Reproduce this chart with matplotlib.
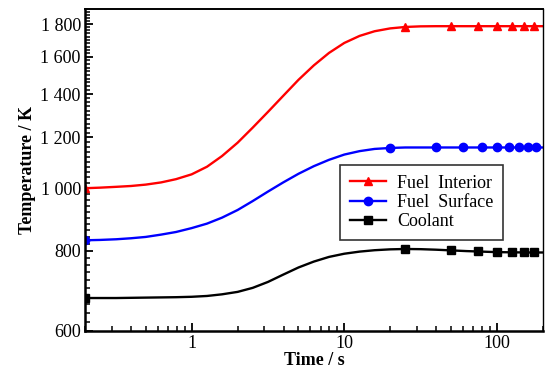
import numpy as np
import matplotlib
matplotlib.use("Agg")
import matplotlib.pyplot as plt
from matplotlib.ticker import FixedLocator, FixedFormatter, LogLocator, NullFormatter

plt.rcParams['font.family'] = ['Liberation Serif', 'DejaVu Serif']

# time points (s)
t_line = [0.2, 0.25, 0.32, 0.4, 0.5, 0.63, 0.79, 1, 1.26, 1.58, 2, 2.51,
          3.16, 3.98, 5.01, 6.31, 7.94, 10, 12.6, 15.8, 20, 25.1, 31.6, 39.8,
          50.1, 63.1, 79.4, 100, 126, 158, 200]
interior = [1000, 1002, 1005, 1008, 1013, 1021, 1033, 1051, 1080, 1122, 1177,
            1242, 1314, 1392, 1474, 1552, 1623, 1682, 1725, 1754, 1772, 1781,
            1785, 1786, 1786, 1786, 1786, 1786, 1786, 1786, 1786]
surface = [830, 831, 833, 836, 840, 847, 855, 867, 881, 900, 925, 955, 988,
           1021, 1053, 1082, 1107, 1128, 1142, 1151, 1155, 1157, 1157, 1157,
           1157, 1157, 1157, 1157, 1157, 1157, 1157]
coolant = [675, 675, 675, 675.5, 676, 676.5, 677, 678, 680, 684, 690, 700,
           715, 734, 753, 769, 782, 791, 797, 801, 803.5, 804.5, 804, 802.5,
           800.5, 798.5, 797, 795.5, 795, 794.5, 794.5]

# marker positions
t_mark_a = [0.2, 25, 50, 75, 100, 125, 150, 175]
interior_mark = [1000, 1781, 1786, 1786, 1786, 1786, 1786, 1786]
coolant_mark = [675, 804.5, 800.5, 797.5, 795.5, 795, 794.5, 794.5]
t_mark_s = [0.2, 20, 40, 60, 80, 100, 120, 140, 160, 180]
surface_mark = [830, 1155, 1157, 1157, 1157, 1157, 1157, 1157, 1157, 1157]

y_ticks = [600, 800, 1000, 1200, 1400, 1600, 1800]
y_labels = ['600', '800', '1 000', '1 200', '1 400', '1 600', '1 800']

fig = plt.figure(figsize=(5.45, 3.71), dpi=100)
ax = fig.add_axes([0.156, 0.108, 0.84, 0.868])

series = [
    ('Fuel  Interior', t_line, interior, t_mark_a, interior_mark, '#ff0000', '^'),
    ('Fuel  Surface', t_line, surface, t_mark_s, surface_mark, '#0000ff', 'o'),
    ('Coolant', t_line, coolant, t_mark_a, coolant_mark, '#000000', 's'),
]
for name, tl, vl, tm, vm, col, mk in series:
    ax.plot(tl, vl, color=col, lw=1.7)
    ax.plot(tm, vm, ls='none', marker=mk, color=col, ms=6)
    # proxy for legend
    ax.plot([], [], color=col, lw=1.7, marker=mk, ms=6, label=name)

ax.set_xscale('log')
ax.set_yscale('log')
ax.set_xlim(0.2, 200)
ax.set_ylim(600, 1900)

ax.xaxis.set_major_locator(FixedLocator([1, 10, 100]))
ax.xaxis.set_major_formatter(FixedFormatter(['1', '10', '100']))
ax.xaxis.set_minor_locator(LogLocator(base=10, subs=np.arange(2, 10)))
ax.xaxis.set_minor_formatter(NullFormatter())

ax.yaxis.set_major_locator(FixedLocator(y_ticks))
ax.yaxis.set_major_formatter(FixedFormatter(y_labels))
ax.yaxis.set_minor_locator(FixedLocator(np.arange(600, 1901, 20)))
ax.yaxis.set_minor_formatter(NullFormatter())

ax.tick_params(which='both', direction='in', top=False, right=False,
               labelsize=13, pad=3)
ax.tick_params(which='major', length=6, width=1.3)
ax.tick_params(which='minor', length=3.5, width=1.1)

for s in ['left', 'bottom']:
    ax.spines[s].set_linewidth(1.8)
ax.spines['top'].set_linewidth(1.4)
ax.spines['right'].set_linewidth(1.0)

ax.set_xlabel('Time / s', fontsize=13, fontweight='bold', labelpad=0)
ax.set_ylabel('Temperature / K', fontsize=13, fontweight='bold', labelpad=3)

leg = ax.legend(loc='upper left', bbox_to_anchor=(0.557, 0.516),
                borderaxespad=0, fontsize=13, frameon=True, fancybox=False,
                handlelength=2.0, borderpad=0.55, labelspacing=0.12,
                handletextpad=0.6)
leg.get_frame().set_edgecolor('black')
leg.get_frame().set_linewidth(1.2)

fig.savefig('out.png', dpi=100)
